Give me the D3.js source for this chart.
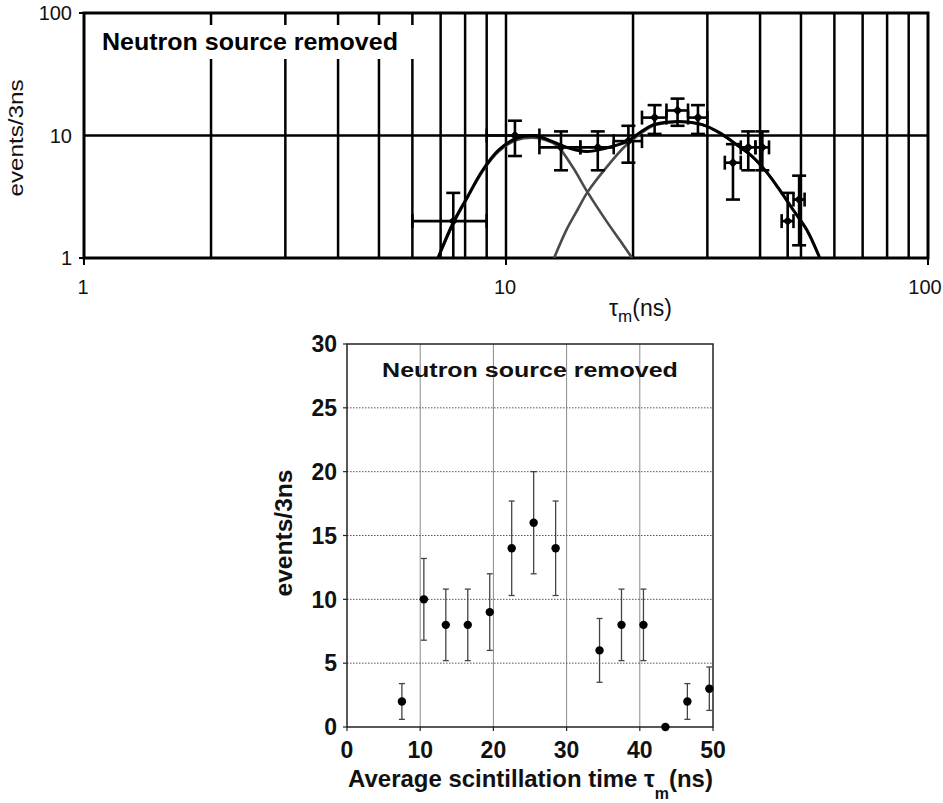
<!DOCTYPE html>
<html><head><meta charset="utf-8">
<script src="https://cdn.jsdelivr.net/npm/d3@7"></script>
<style>body{margin:0;background:#fff}svg{display:block}text{font-family:"Liberation Sans",Arial,sans-serif}</style>
</head><body><svg id="c" width="943" height="803"></svg>
<script>
// ---------- data: top (log-log) panel ----------
const topTickLabels = [1, 10, 100];
const topX     = [7.5, 10.5, 13.5, 16.5, 19.5, 22.5, 25.5, 28.5, 34.5, 37.5, 40.5, 46.5, 49.5];
const topY     = [2, 10, 8, 8, 9, 14, 16, 14, 6, 8, 8, 2, 3];
const topYLow  = [0.6, 6.8, 5.2, 5.2, 6, 10.3, 12, 10.3, 3.0, 5.2, 5.2, 0.6, 1.27];
const topYHigh = [3.4, 13.2, 10.8, 10.8, 12, 17.7, 20, 17.7, 8.5, 10.8, 10.8, 3.4, 4.7];
const topXLow  = [6, 9, 12, 15, 18, 21, 24, 27, 33, 36, 39, 45, 48];
const topXHigh = [9, 12, 15, 18, 21, 24, 27, 30, 36, 39, 42, 48, 51];
// fitted curves
const totalX = [6.9, 7.5, 8.1, 8.8, 9.6, 10.6, 11.8, 12.9, 14.1, 15.5, 17.3, 19.3, 20.7, 22.3, 24.4, 26.8, 29.3, 32.1, 35.2, 38.4, 41.5, 44.5, 47.8, 51.6, 55.4];
const totalY = [1, 1.95, 3.15, 5.2, 7.6, 9.5, 9.9, 8.9, 7.9, 7.4, 7.9, 8.9, 10.5, 12.2, 12.9, 12.9, 12.2, 10.5, 8.4, 6.7, 5.0, 3.6, 2.5, 1.7, 1];
const fastX  = [6.9, 7.5, 8.1, 8.8, 9.6, 10.6, 11.6, 12.4, 13.2, 14.4, 15.6, 17.3, 18.6, 19.9];
const fastY  = [1, 1.9, 3.1, 5.1, 7.4, 9.2, 9.6, 9.2, 8.3, 5.5, 3.45, 2.0, 1.4, 1];
const slowX  = [13.0, 13.9, 14.8, 15.6, 17.3, 19.3, 20.7, 22.3, 24.4, 26.8, 29.3, 32.1, 35.2, 38.4, 41.5, 44.5, 47.8, 51.6, 55.4];
const slowY  = [1, 1.69, 2.5, 3.45, 5.5, 8.4, 10.2, 12.0, 12.8, 12.9, 12.2, 10.5, 8.4, 6.7, 5.0, 3.6, 2.5, 1.7, 1];

// ---------- data: bottom (linear) panel ----------
const botXTicks = [0, 10, 20, 30, 40, 50];
const botYTicks = [0, 5, 10, 15, 20, 25, 30];
const botX     = [7.5, 10.5, 13.5, 16.5, 19.5, 22.5, 25.5, 28.5, 34.5, 37.5, 40.5, 43.5, 46.5, 49.5];
const botY     = [2, 10, 8, 8, 9, 14, 16, 14, 6, 8, 8, 0, 2, 3];
const botYLow  = [0.6, 6.8, 5.2, 5.2, 6, 10.3, 12, 10.3, 3.5, 5.2, 5.2, 0, 0.6, 1.3];
const botYHigh = [3.4, 13.2, 10.8, 10.8, 12, 17.7, 20, 17.7, 8.5, 10.8, 10.8, 0, 3.4, 4.7];

const label = "Neutron source removed";

const svg = d3.select('#c');

function fit(textSel, target) {
  const w = textSel.node().getBBox().width;
  textSel.attr('transform', `scale(${target / w},1)`);
}

// ================= TOP PANEL =================
const xT = d3.scaleLog().domain([1, 100]).range([84, 928]);
const yT = d3.scaleLog().domain([1, 100]).range([258, 13]);
const gTop = svg.append('g');

// grid lines
const vGrid = xT.ticks().filter(v => v > 1 && v < 100);
gTop.selectAll('.vg').data(vGrid).join('line')
  .attr('x1', d => xT(d)).attr('x2', d => xT(d))
  .attr('y1', yT(100)).attr('y2', yT(1))
  .attr('stroke', '#000').attr('stroke-width', 2.5);
gTop.append('line').attr('x1', xT(1)).attr('x2', xT(100))
  .attr('y1', yT(10)).attr('y2', yT(10)).attr('stroke', '#000').attr('stroke-width', 2.5);

// ticks outward
gTop.selectAll('.xt').data(topTickLabels).join('line')
  .attr('x1', d => xT(d)).attr('x2', d => xT(d)).attr('y1', yT(1)).attr('y2', yT(1) + 7)
  .attr('stroke', '#000').attr('stroke-width', 2);
gTop.selectAll('.yt').data([1, 100]).join('line')
  .attr('x1', xT(1) - 5).attr('x2', xT(1)).attr('y1', d => yT(d)).attr('y2', d => yT(d))
  .attr('stroke', '#000').attr('stroke-width', 2);

// legend box
gTop.append('rect').attr('x', 89).attr('y', 25).attr('width', 326).attr('height', 34).attr('fill', '#fff');
const tl = gTop.append('g').attr('transform', 'translate(250,50)')
  .append('text').attr('text-anchor', 'middle').attr('font-weight', 'bold').attr('font-size', 23).text(label);
fit(tl, 296);

// frame
gTop.append('rect').attr('x', xT(1)).attr('y', yT(100))
  .attr('width', xT(100) - xT(1)).attr('height', yT(1) - yT(100))
  .attr('fill', 'none').attr('stroke', '#000').attr('stroke-width', 3);

// clip
svg.append('clipPath').attr('id', 'clipT').append('rect')
  .attr('x', xT(1)).attr('y', yT(100)).attr('width', xT(100) - xT(1)).attr('height', yT(1) - yT(100));
const dT = gTop.append('g').attr('clip-path', 'url(#clipT)');

const line = d3.line().x(d => xT(d[0])).y(d => yT(d[1])).curve(d3.curveCatmullRom.alpha(0.5));
dT.append('path').datum(d3.zip(fastX, fastY)).attr('d', line)
  .attr('fill', 'none').attr('stroke', '#4a4a4a').attr('stroke-width', 2.6);
dT.append('path').datum(d3.zip(slowX, slowY)).attr('d', line)
  .attr('fill', 'none').attr('stroke', '#4a4a4a').attr('stroke-width', 2.6);
dT.append('path').datum(d3.zip(totalX, totalY)).attr('d', line)
  .attr('fill', 'none').attr('stroke', '#000').attr('stroke-width', 3);

const topPts = topX.map((x, i) => ({x, y: topY[i], yl: topYLow[i], yh: topYHigh[i], xl: topXLow[i], xh: topXHigh[i]}));
const cap = 7;
const eb = dT.selectAll('.eb').data(topPts).join('g').attr('stroke', '#000').attr('stroke-width', 2.6);
eb.append('line').attr('x1', d => xT(d.x)).attr('x2', d => xT(d.x))
  .attr('y1', d => yT(Math.max(d.yl, 0.5))).attr('y2', d => yT(d.yh));
eb.append('line').attr('x1', d => xT(d.x) - cap).attr('x2', d => xT(d.x) + cap)
  .attr('y1', d => yT(d.yh)).attr('y2', d => yT(d.yh));
eb.append('line').attr('x1', d => xT(d.x) - cap).attr('x2', d => xT(d.x) + cap)
  .attr('y1', d => yT(Math.max(d.yl, 0.5))).attr('y2', d => yT(Math.max(d.yl, 0.5)));
eb.append('line').attr('x1', d => xT(d.xl)).attr('x2', d => xT(d.xh))
  .attr('y1', d => yT(d.y)).attr('y2', d => yT(d.y));
eb.append('line').attr('x1', d => xT(d.xl)).attr('x2', d => xT(d.xl))
  .attr('y1', d => yT(d.y) - cap).attr('y2', d => yT(d.y) + cap);
eb.append('line').attr('x1', d => xT(d.xh)).attr('x2', d => xT(d.xh))
  .attr('y1', d => yT(d.y) - cap).attr('y2', d => yT(d.y) + cap);
dT.selectAll('.mk').data(topPts).join('path')
  .attr('d', d3.symbol(d3.symbolSquare, 45))
  .attr('transform', d => `translate(${xT(d.x)},${yT(d.y)}) rotate(45)`)
  .attr('fill', '#000');

// tick labels
gTop.selectAll('.yl').data(topTickLabels).join('text')
  .attr('x', 72).attr('y', d => yT(d)).attr('dy', '0.36em').attr('text-anchor', 'end')
  .attr('font-size', 20).attr('fill', '#111').text(d => d);
gTop.selectAll('.xl').data(topTickLabels).join('text')
  .attr('x', d => xT(d) - (d === 100 ? 3 : 1)).attr('y', 287).attr('dy', '0.36em').attr('text-anchor', 'middle')
  .attr('font-size', 20).attr('fill', '#111').text(d => d);

// axis titles
const tyl = gTop.append('g').attr('transform', 'translate(15,138) rotate(-90)')
  .append('text').attr('text-anchor', 'middle').attr('dy', '0.36em').attr('font-size', 21).attr('fill', '#111').text('events/3ns');
fit(tyl, 117);
const txl = gTop.append('text').attr('x', 609).attr('y', 316).attr('font-size', 23).attr('fill', '#111');
txl.append('tspan').text('τ');
txl.append('tspan').attr('font-size', 17).attr('dy', 6).text('m');
txl.append('tspan').attr('dy', -6).text('(ns)');

// ================= BOTTOM PANEL =================
const xB = d3.scaleLinear().domain([0, 50]).range([347, 713]);
const yB = d3.scaleLinear().domain([0, 30]).range([727, 344]);
const gBot = svg.append('g');

gBot.selectAll('.bvg').data(botXTicks.slice(1, -1)).join('line')
  .attr('x1', d => xB(d)).attr('x2', d => xB(d)).attr('y1', yB(30)).attr('y2', yB(0))
  .attr('stroke', '#8a8a8a').attr('stroke-width', 1);
gBot.selectAll('.bhg').data(botYTicks.slice(1, -1)).join('line')
  .attr('x1', xB(0)).attr('x2', xB(50)).attr('y1', d => yB(d)).attr('y2', d => yB(d))
  .attr('stroke', '#555').attr('stroke-width', 1).attr('stroke-dasharray', '1.5,1.5');

// ticks outward
gBot.selectAll('.bxt').data(botXTicks).join('line')
  .attr('x1', d => xB(d)).attr('x2', d => xB(d)).attr('y1', yB(0)).attr('y2', yB(0) + 4)
  .attr('stroke', '#222').attr('stroke-width', 1.2);
gBot.selectAll('.byt').data(botYTicks).join('line')
  .attr('x1', xB(0) - 4).attr('x2', xB(0)).attr('y1', d => yB(d)).attr('y2', d => yB(d))
  .attr('stroke', '#222').attr('stroke-width', 1.2);

gBot.append('rect').attr('x', xB(0)).attr('y', yB(30)).attr('width', xB(50) - xB(0)).attr('height', yB(0) - yB(30))
  .attr('fill', 'none').attr('stroke', '#222').attr('stroke-width', 1.5);

const bl = gBot.append('g').attr('transform', 'translate(530,377)')
  .append('text').attr('text-anchor', 'middle').attr('font-weight', 'bold').attr('font-size', 20).attr('fill', '#111').text(label);
fit(bl, 296);

const botPts = botX.map((x, i) => ({x, y: botY[i], yl: botYLow[i], yh: botYHigh[i]}));
const eb2 = gBot.selectAll('.eb2').data(botPts.filter(d => d.yh > d.yl)).join('g')
  .attr('stroke', '#444').attr('stroke-width', 1.3);
eb2.append('line').attr('x1', d => xB(d.x)).attr('x2', d => xB(d.x)).attr('y1', d => yB(d.yl)).attr('y2', d => yB(d.yh));
eb2.append('line').attr('x1', d => xB(d.x) - 3).attr('x2', d => xB(d.x) + 3).attr('y1', d => yB(d.yl)).attr('y2', d => yB(d.yl));
eb2.append('line').attr('x1', d => xB(d.x) - 3).attr('x2', d => xB(d.x) + 3).attr('y1', d => yB(d.yh)).attr('y2', d => yB(d.yh));
gBot.selectAll('.mk2').data(botPts).join('circle')
  .attr('cx', d => xB(d.x)).attr('cy', d => yB(d.y)).attr('r', 4.2).attr('fill', '#000');

gBot.selectAll('.byl').data(botYTicks).join('text')
  .attr('x', 337).attr('y', d => yB(d)).attr('dy', '0.36em').attr('text-anchor', 'end')
  .attr('font-weight', 'bold').attr('font-size', 23).attr('fill', '#111').text(d => d);
gBot.selectAll('.bxl').data(botXTicks).join('text')
  .attr('x', d => xB(d)).attr('y', 758).attr('text-anchor', 'middle')
  .attr('font-weight', 'bold').attr('font-size', 23).attr('fill', '#111').text(d => d);

const byl = gBot.append('g').attr('transform', 'translate(284,533) rotate(-90)')
  .append('text').attr('text-anchor', 'middle').attr('dy', '0.36em').attr('font-weight', 'bold').attr('font-size', 23).attr('fill', '#111').text('events/3ns');
fit(byl, 127);

const bxlG = gBot.append('g').attr('transform', 'translate(530.5,787)');
const bxl = bxlG.append('text').attr('text-anchor', 'middle').attr('font-weight', 'bold').attr('font-size', 24).attr('fill', '#111');
bxl.append('tspan').text('Average scintillation time ');
bxl.append('tspan').text('τ');
bxl.append('tspan').attr('font-size', 16).attr('dy', 12).text('m');
bxl.append('tspan').attr('dy', -12).text('(ns)');
fit(bxl, 365);
</script></body></html>
